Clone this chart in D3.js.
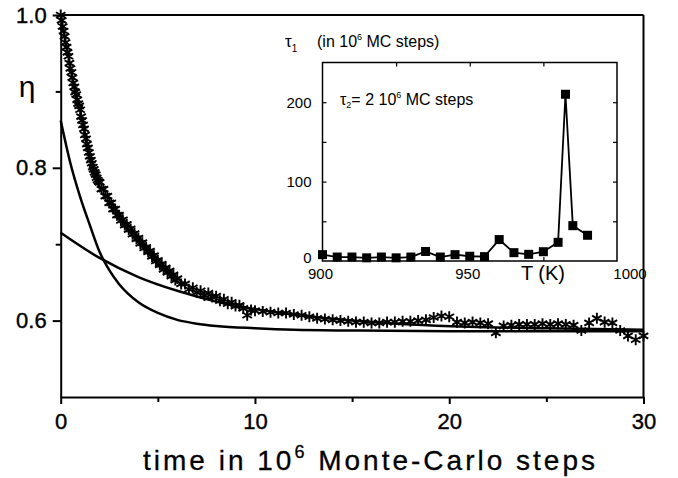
<!DOCTYPE html>
<html>
<head>
<meta charset="utf-8">
<script src="https://cdn.jsdelivr.net/npm/d3@7"></script>
<style>
  body { margin: 0; background: #fff; }
  svg { display: block; font-family: "Liberation Sans", Arial, sans-serif; }
</style>
</head>
<body>
<svg width="678" height="478"></svg>
<script>
// main panel: eta vs time (10^6 MC steps)
const tData = [0, 0.05, 0.1, 0.15, 0.2, 0.25, 0.3, 0.35, 0.4, 0.45, 0.5, 0.55, 0.6, 0.65, 0.7, 0.75, 0.8, 0.85, 0.9, 0.95,
  1.0, 1.05, 1.1, 1.15, 1.2, 1.25, 1.3, 1.35, 1.4, 1.45, 1.5, 1.55, 1.6, 1.65, 1.7, 1.75, 1.8, 1.85, 1.9, 1.95,
  2.0, 2.1, 2.2, 2.3, 2.4, 2.5, 2.6, 2.7, 2.8, 2.9, 3.0, 3.1, 3.2, 3.3, 3.4, 3.5, 3.6, 3.7, 3.8, 3.9,
  4.0, 4.1, 4.2, 4.3, 4.4, 4.5, 4.6, 4.7, 4.8, 4.9, 5.0, 5.1, 5.2, 5.3, 5.4, 5.5, 5.6, 5.7, 5.8, 5.9,
  6.0, 6.2, 6.4, 6.6, 6.8, 7.0, 7.2, 7.4, 7.6, 7.8, 8.0, 8.2, 8.4, 8.6, 8.8, 9.0, 9.2, 9.4, 9.6, 9.8, 10.0,
  10.4, 10.8, 11.2, 11.6, 12.0, 12.4, 12.8, 13.2, 13.6, 14.0, 14.4, 14.8, 15.2, 15.6, 16.0, 16.4, 16.8,
  17.2, 17.6, 18.0, 18.4, 18.8, 19.2, 19.6, 20.0, 20.4, 20.8, 21.2, 21.6, 22.0, 22.4, 22.8, 23.2, 23.6,
  24.0, 24.4, 24.8, 25.2, 25.6, 26.0, 26.4, 26.8, 27.2, 27.6, 28.0, 28.4, 28.8, 29.2, 29.6, 30.0];
const etaData = [1.000, 0.993, 0.985, 0.979, 0.972, 0.964, 0.958, 0.951, 0.946, 0.937, 0.930, 0.925, 0.918, 0.911, 0.906, 0.899, 0.896, 0.889, 0.884, 0.881,
  0.876, 0.867, 0.862, 0.856, 0.851, 0.843, 0.838, 0.831, 0.826, 0.820, 0.815, 0.810, 0.806, 0.801, 0.798, 0.794, 0.791, 0.787, 0.784, 0.782,
  0.781, 0.772, 0.772, 0.763, 0.763, 0.754, 0.754, 0.746, 0.746, 0.738, 0.738, 0.731, 0.732, 0.725, 0.726, 0.719, 0.720, 0.713, 0.714, 0.707,
  0.708, 0.701, 0.702, 0.695, 0.696, 0.690, 0.691, 0.684, 0.685, 0.678, 0.679, 0.673, 0.674, 0.667, 0.669, 0.663, 0.665, 0.658, 0.660, 0.653,
  0.655, 0.648, 0.648, 0.641, 0.643, 0.637, 0.639, 0.633, 0.636, 0.631, 0.632, 0.626, 0.628, 0.622, 0.624, 0.619, 0.620, 0.616, 0.607, 0.614, 0.613,
  0.612, 0.611, 0.610, 0.610, 0.608, 0.607, 0.605, 0.603, 0.602, 0.601, 0.600, 0.599, 0.598, 0.598, 0.597, 0.597, 0.598,
  0.598, 0.599, 0.599, 0.600, 0.601, 0.604, 0.606, 0.605, 0.598, 0.597, 0.598, 0.597, 0.596, 0.584, 0.593, 0.594, 0.595,
  0.595, 0.595, 0.596, 0.595, 0.596, 0.595, 0.594, 0.587, 0.597, 0.603, 0.598, 0.597, 0.587, 0.580, 0.575, 0.580];

// fitted curves (fast and slow)
const tFast = [0, 0.5, 1, 1.5, 2, 2.5, 3, 4, 5, 6, 7, 8, 10, 12, 15, 20, 30];
const etaFast = [0.862, 0.806, 0.762, 0.725, 0.690, 0.666, 0.648, 0.624, 0.610, 0.601, 0.596, 0.593, 0.590, 0.588, 0.587, 0.586, 0.586];
const tSlow = [0, 2, 4, 6, 8, 10, 12, 15, 18, 21, 25, 30];
const etaSlow = [0.715, 0.682, 0.657, 0.639, 0.625, 0.615, 0.608, 0.600, 0.595, 0.592, 0.590, 0.588];

const xTicks = [0, 10, 20, 30];
const xMinor = [5, 15, 25];
const yTicks = [0.6, 0.8, 1.0];
const yMinor = [0.7, 0.9];

// inset: tau1 vs T
const insetT = [900, 905, 910, 915, 920, 925, 930, 935, 940, 945, 950, 955, 960, 965, 970, 975, 980, 982.5, 985, 990];
const insetTau = [8, 5, 5, 4, 5, 4, 5, 12, 5, 8, 6, 5.5, 27, 10.5, 8.4, 11.7, 23.5, 210, 44.5, 32.4];
const insetXLabels = [900, 950, 1000];
const insetXMinor = [925, 950, 975];
const insetYLabels = [0, 100, 200];
const insetYMinor = [50, 100, 150, 200];

const svg = d3.select("svg");

const x = d3.scaleLinear().domain([0, 30]).range([60.7, 643.5]);
const y = d3.scaleLinear().domain([0.5, 1.0]).range([397, 15]);

const main = svg.append("g");

// frame: top and right lines
main.append("line").attr("x1", x(0)).attr("x2", x(30)).attr("y1", y(1.0)).attr("y2", y(1.0))
  .attr("stroke", "#000").attr("stroke-width", 2);
main.append("line").attr("x1", x(30)).attr("x2", x(30)).attr("y1", y(1.0)).attr("y2", y(0.5))
  .attr("stroke", "#000").attr("stroke-width", 2);

main.append("g")
  .attr("transform", `translate(0,${y(0.5)})`)
  .call(d3.axisBottom(x).tickValues(xTicks).tickSize(7).tickPadding(9).tickSizeOuter(0));
main.append("g")
  .attr("transform", `translate(0,${y(0.5)})`)
  .call(d3.axisBottom(x).tickValues(xMinor).tickSize(5).tickFormat("").tickSizeOuter(0))
  .select(".domain").remove();

main.append("g")
  .attr("transform", `translate(${x(0)},0)`)
  .call(d3.axisLeft(y).tickValues(yTicks).tickSize(8).tickPadding(6).tickSizeOuter(0).tickFormat(d3.format(".1f")));
main.append("g")
  .attr("transform", `translate(${x(0)},0)`)
  .call(d3.axisLeft(y).tickValues(yMinor).tickSize(5).tickFormat("").tickSizeOuter(0))
  .select(".domain").remove();

main.selectAll(".domain").attr("stroke-width", 2);
main.selectAll(".tick line").attr("stroke-width", 2);
main.selectAll(".tick text").attr("font-size", 22).attr("font-family", "Liberation Sans, Arial, sans-serif")
  .attr("stroke", "#000").attr("stroke-width", 0.4);

// curves
const line = d3.line().curve(d3.curveMonotoneX).x(d => x(d[0])).y(d => y(d[1]));
main.append("path").datum(d3.zip(tFast, etaFast)).attr("d", line)
  .attr("fill", "none").attr("stroke", "#000").attr("stroke-width", 2.5);
main.append("path").datum(d3.zip(tSlow, etaSlow)).attr("d", line)
  .attr("fill", "none").attr("stroke", "#000").attr("stroke-width", 2.5);

// asterisk markers
const star = d3.symbol().type(d3.symbolAsterisk).size(85);
main.append("g").selectAll("path")
  .data(d3.zip(tData, etaData))
  .join("path")
  .attr("transform", d => `translate(${x(d[0])},${y(d[1])})`)
  .attr("d", star)
  .attr("fill", "none").attr("stroke", "#000").attr("stroke-width", 1.9);

// labels
svg.append("text").attr("x", 27).attr("y", 97).attr("text-anchor", "middle")
  .attr("font-size", 30).text("η");

const xTitle = svg.append("text").attr("x", 143).attr("y", 470).attr("font-size", 28).attr("letter-spacing", 3)
  .attr("stroke", "#000").attr("stroke-width", 0.3);
xTitle.append("tspan").text("time in 10");
xTitle.append("tspan").attr("dy", -12).attr("font-size", 18).text("6");
xTitle.append("tspan").attr("dy", 12).text(" Monte-Carlo steps");

// inset
const ix = d3.scaleLinear().domain([900, 1000]).range([322.5, 617]);
const iy = d3.scaleLinear().domain([0, 250]).range([261, 62.5]);
const inset = svg.append("g");

inset.append("rect").attr("x", ix(900)).attr("y", iy(250))
  .attr("width", ix(1000) - ix(900)).attr("height", iy(0) - iy(250))
  .attr("fill", "none").attr("stroke", "#000").attr("stroke-width", 1.5);

inset.append("g").attr("transform", `translate(0,${iy(0)})`)
  .call(d3.axisBottom(ix).tickValues(insetXMinor).tickSize(-4).tickFormat("").tickSizeOuter(0));
inset.append("g").attr("transform", `translate(0,${iy(250)})`)
  .call(d3.axisTop(ix).tickValues(insetXMinor).tickSize(-4).tickFormat("").tickSizeOuter(0));
inset.append("g").attr("transform", `translate(${ix(900)},0)`)
  .call(d3.axisLeft(iy).tickValues(insetYMinor).tickSize(-4).tickFormat("").tickSizeOuter(0));
inset.append("g").attr("transform", `translate(${ix(1000)},0)`)
  .call(d3.axisRight(iy).tickValues(insetYMinor).tickSize(-4).tickFormat("").tickSizeOuter(0));
inset.selectAll(".domain").remove();
inset.selectAll(".tick line").attr("stroke-width", 1.2);

inset.append("g").selectAll("text")
  .data(insetXLabels)
  .join("text")
  .attr("x", d => ix(d) + (d === 1000 ? 13 : -2))
  .attr("y", 279)
  .attr("text-anchor", "middle")
  .attr("font-size", 15)
  .text(d => d);
inset.append("g").selectAll("text")
  .data(insetYLabels)
  .join("text")
  .attr("x", ix(900) - 11)
  .attr("y", d => iy(d) + 5.5 - (d === 0 ? 4 : 0))
  .attr("text-anchor", "end")
  .attr("font-size", 15)
  .text(d => d);

const iline = d3.line().x(d => ix(d[0])).y(d => iy(d[1]));
const insetPts = d3.zip(insetT, insetTau);
inset.append("path").datum(insetPts).attr("d", iline)
  .attr("fill", "none").attr("stroke", "#000").attr("stroke-width", 1.8);
inset.append("g").selectAll("rect")
  .data(insetPts)
  .join("rect")
  .attr("x", d => ix(d[0]) - 4.5)
  .attr("y", d => iy(d[1]) - 4.5)
  .attr("width", 9).attr("height", 9)
  .attr("fill", "#000");

inset.append("text").attr("x", 543).attr("y", 280).attr("text-anchor", "middle")
  .attr("font-size", 20).text("T (K)");

const iTitle = svg.append("text").attr("x", 285).attr("y", 47).attr("font-size", 16);
iTitle.append("tspan").attr("font-size", 17).text("τ");
iTitle.append("tspan").attr("dy", 5).attr("font-size", 10).text("1");
iTitle.append("tspan").attr("x", 317).attr("dy", -5).text("(in 10");
iTitle.append("tspan").attr("dy", -7).attr("font-size", 9).text("6");
iTitle.append("tspan").attr("dy", 7).text(" MC steps)");

const tau2 = svg.append("text").attr("x", 340).attr("y", 105).attr("font-size", 16);
tau2.append("tspan").attr("font-size", 16).text("τ");
tau2.append("tspan").attr("dy", 3).attr("font-size", 9).text("2");
tau2.append("tspan").attr("dy", -3).text("= 2 10");
tau2.append("tspan").attr("dy", -7).attr("font-size", 9).text("6");
tau2.append("tspan").attr("dy", 7).text(" MC steps");
</script>
</body>
</html>
